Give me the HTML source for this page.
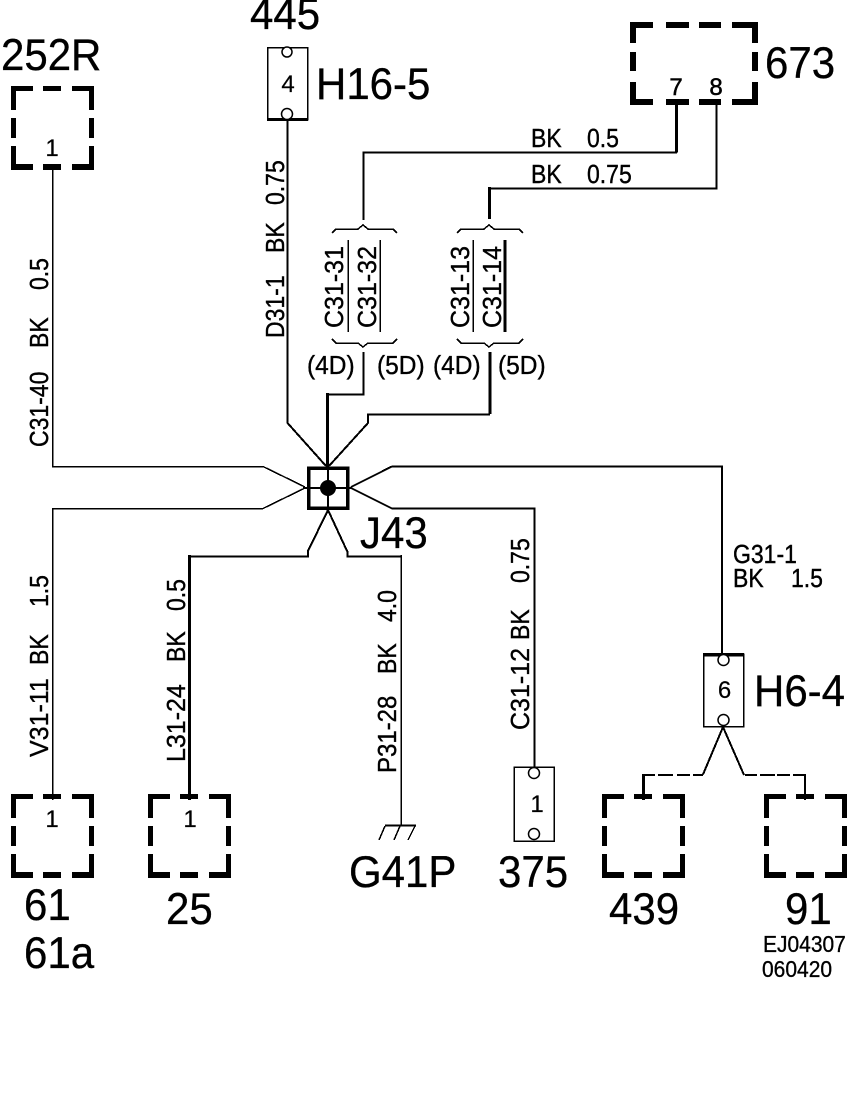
<!DOCTYPE html>
<html><head><meta charset="utf-8"><style>
html,body{margin:0;padding:0;background:#fff}
svg{display:block}
text{font-family:"Liberation Sans",sans-serif;fill:#000}
.L{font-size:42px;stroke:#000;stroke-width:.3}
.S{font-size:23px;stroke:#000;stroke-width:.35}
.T{font-size:25px;stroke:#000;stroke-width:.35}
.N{font-size:24px;stroke:#000;stroke-width:.2}
.C{font-size:21px;stroke:#000;stroke-width:.3}
.w{fill:none;stroke:#000;stroke-linejoin:miter;shape-rendering:crispEdges}
</style></head><body>
<svg width="864" height="1100" viewBox="0 0 864 1100" xmlns="http://www.w3.org/2000/svg">
<defs>
<g id="box">
<path d="M0 0H22V5H5V24H0Z"/><rect x="32" y="0" width="18" height="5"/><path d="M61 0H83V24H78V5H61Z"/>
<rect x="0" y="32" width="5" height="20"/><rect x="78" y="32" width="5" height="20"/>
<path d="M0 60H5V78H22V84H0Z"/><rect x="32" y="78" width="18" height="6"/><path d="M78 60H83V84H61V78H78Z"/>
</g>
</defs>
<rect width="864" height="1100" fill="#fff"/>

<!-- dashed boxes -->
<use href="#box" x="11" y="86"/>
<use href="#box" x="11" y="794"/>
<use href="#box" x="148" y="794"/>
<use href="#box" x="602" y="794"/>
<use href="#box" x="764" y="794"/>
<!-- 673 box -->
<path d="M630 22H653V28H636V43H630Z"/><rect x="666" y="22" width="23" height="6"/><rect x="699" y="22" width="22" height="6"/><path d="M732 22H758V43H752V28H732Z"/>
<rect x="630" y="52" width="6" height="19"/><rect x="752" y="52" width="6" height="19"/>
<path d="M630 82H636V99H653V105H630Z"/><rect x="666" y="99" width="23" height="6"/><rect x="699" y="99" width="22" height="6"/><path d="M752 82H758V105H732V99H752Z"/>

<!-- wires -->
<path class="w" stroke-width="1.5" d="M52.5 170V466.5H263L305 487"/>
<path class="w" stroke-width="1.5" d="M52.5 800V508.5H263L305 488"/>
<path class="w" stroke-width="2" d="M287.5 120V423L326 466"/>
<path class="w" stroke-width="3" d="M676.5 105V152.5"/>
<path class="w" stroke-width="2" d="M677 152.5H363.5V220"/>
<path class="w" stroke-width="2" d="M716.5 105V188.5H489.5"/>
<path class="w" stroke-width="3" d="M489.5 187V219"/>
<path class="w" stroke-width="2" d="M363.5 352V394.5H327.5"/>
<path class="w" stroke-width="3" d="M327.5 393V467"/>
<path class="w" stroke-width="3" d="M490 352V414"/>
<path class="w" stroke-width="2" d="M490 414.5H368V423L329 466"/>
<path class="w" stroke-width="2" d="M722 654V466.5H392L351 487"/>
<path class="w" stroke-width="2" d="M534.5 770V508.5H392L351 488"/>
<path class="w" stroke-width="2" d="M328 510L308 551V556.5H189"/>
<path class="w" stroke-width="3" d="M189.5 555V800"/>
<path class="w" stroke-width="2" d="M328 510L347.5 552V556.5H401"/>
<path class="w" stroke-width="1.5" d="M401 555V826"/>

<!-- J43 -->
<rect class="w" stroke-width="3.5" x="308.5" y="468" width="39" height="40"/>
<path class="w" stroke-width="2" d="M303 488H352M328 462V512"/>
<circle cx="328" cy="488" r="8"/>

<!-- ground -->
<path class="w" stroke-width="2" d="M385 825.5H416"/>
<path class="w" stroke-width="1.5" d="M385 826L379 840M400 826L394 840M415 826L408 840"/>

<!-- braces -->
<path class="w" stroke-width="1.5" d="M332 233L336 229H358L363 225L368 229H393L397 233"/>
<path class="w" stroke-width="1.5" d="M332 339L336 343H358L363 347L368 343H393L397 339"/>
<path class="w" stroke-width="1.5" d="M457 233L461 229H484L489 225L494 229H519L523 233"/>
<path class="w" stroke-width="1.5" d="M457 339L461 343H484L489 347L494 343H519L523 339"/>
<path class="w" stroke-width="1.5" d="M348 240V332"/>
<path class="w" stroke-width="1.5" d="M380 240V332"/>
<path class="w" stroke-width="1.5" d="M473 240V332"/>
<path class="w" stroke-width="3" d="M505 240V332"/>

<!-- connectors -->
<rect class="w" stroke-width="1.5" x="267.5" y="47.5" width="40" height="72"/>
<path class="w" stroke-width="3" d="M267 119.5H308"/>
<circle cx="287" cy="52" r="5" fill="#fff" stroke="#000" stroke-width="1.5"/>
<circle cx="287" cy="114" r="5.5" fill="#fff" stroke="#000" stroke-width="1.5"/>

<rect class="w" stroke-width="1.5" x="703.5" y="654" width="40" height="72.5"/>
<path class="w" stroke-width="3.5" d="M703 654.5H744"/>
<circle cx="723.5" cy="660" r="5.5" fill="#fff" stroke="#000" stroke-width="1.5"/>
<circle cx="723.5" cy="720" r="5.5" fill="#fff" stroke="#000" stroke-width="1.5"/>

<rect class="w" stroke-width="1.5" x="514" y="767" width="40" height="74"/>
<circle cx="534" cy="773" r="5.5" fill="#fff" stroke="#000" stroke-width="1.5"/>
<circle cx="534" cy="834" r="5.5" fill="#fff" stroke="#000" stroke-width="1.5"/>

<!-- fork -->
<path class="w" stroke-width="2" d="M723 727L703 774.5M723 727L744 775"/>
<path class="w" stroke-width="2" d="M643 775H655M658 775H673M677 775H690M693 775H703"/>
<path class="w" stroke-width="2" d="M745 775H757M760 775H775M777 775H790M793 775H806"/>
<path class="w" stroke-width="3" d="M643.5 774V800"/>
<path class="w" stroke-width="2" d="M805 774V800"/>

<!-- large labels -->
<text class="L" transform="translate(1 70) scale(1 1.06)">252R</text>
<text class="L" transform="translate(250 29) scale(1 1.06)">445</text>
<text class="L" transform="translate(316 99) scale(1 1.06)">H16-5</text>
<text class="L" transform="translate(765 78) scale(1 1.06)">673</text>
<text class="L" transform="translate(360 548) scale(1 1.06)">J43</text>
<text class="L" transform="translate(754 706) scale(1 1.06)">H6-4</text>
<text class="L" transform="translate(24 920) scale(1 1.06)">61</text>
<text class="L" transform="translate(24 968) scale(1 1.06)">61a</text>
<text class="L" transform="translate(166 924) scale(1 1.06)">25</text>
<text class="L" transform="translate(349 887) scale(1 1.06)">G41P</text>
<text class="L" transform="translate(498 887) scale(1 1.06)">375</text>
<text class="L" transform="translate(609 924) scale(1 1.06)">439</text>
<text class="L" transform="translate(785 924) scale(1 1.06)">91</text>
<text class="C" transform="translate(763 952) scale(1 1.1)">EJ04307</text>
<text class="C" transform="translate(762 977) scale(1 1.1)">060420</text>

<!-- pin numbers -->
<text class="N" x="52" y="156" text-anchor="middle">1</text>
<text class="N" x="52" y="827" text-anchor="middle">1</text>
<text class="N" x="190" y="827" text-anchor="middle">1</text>
<text class="N" x="288" y="92" text-anchor="middle">4</text>
<text class="N" x="724.5" y="698" text-anchor="middle">6</text>
<text class="N" x="537" y="812" text-anchor="middle">1</text>
<text class="N" x="676" y="95" text-anchor="middle" style="stroke-width:.5">7</text>
<text class="N" x="716" y="95" text-anchor="middle" style="stroke-width:.5">8</text>

<!-- horizontal small labels -->
<text class="S" transform="translate(531 147) scale(1 1.12)">BK</text><text class="S" transform="translate(587 147) scale(1 1.12)">0.5</text>
<text class="S" transform="translate(531 183) scale(1 1.12)">BK</text><text class="S" transform="translate(587 183) scale(1 1.12)">0.75</text>
<text class="S" transform="translate(733 563) scale(1 1.12)">G31-1</text>
<text class="S" transform="translate(733 587) scale(1 1.12)">BK</text><text class="S" transform="translate(791 587) scale(1 1.12)">1.5</text>
<text class="S" style="font-size:24.5px" transform="translate(307 374) scale(1 1.05)">(4D)</text>
<text class="S" style="font-size:24.5px" transform="translate(377 374) scale(1 1.05)">(5D)</text>
<text class="S" style="font-size:24.5px" transform="translate(433 374) scale(1 1.05)">(4D)</text>
<text class="S" style="font-size:24.5px" transform="translate(498 374) scale(1 1.05)">(5D)</text>

<!-- rotated small labels -->
<text class="S" transform="translate(48 447) rotate(-90) scale(1 1.12)">C31-40</text>
<text class="S" transform="translate(48 348) rotate(-90) scale(1 1.12)">BK</text>
<text class="S" transform="translate(48 290) rotate(-90) scale(1 1.12)">0.5</text>

<text class="S" transform="translate(284 338) rotate(-90) scale(1 1.12)">D31-1</text>
<text class="S" transform="translate(284 253) rotate(-90) scale(1 1.12)">BK</text>
<text class="S" transform="translate(284 205) rotate(-90) scale(1 1.12)">0.75</text>

<text class="T" transform="translate(343 328) rotate(-90) scale(1 1.05)">C31-31</text>
<text class="T" transform="translate(376 328) rotate(-90) scale(1 1.05)">C31-32</text>
<text class="T" transform="translate(469 328) rotate(-90) scale(1 1.05)">C31-13</text>
<text class="T" transform="translate(501 328) rotate(-90) scale(1 1.05)">C31-14</text>

<text class="T" transform="translate(48 757) rotate(-90) scale(1 1.05)">V31-11</text>
<text class="S" transform="translate(48 665) rotate(-90) scale(1 1.12)">BK</text>
<text class="S" transform="translate(48 607) rotate(-90) scale(1 1.12)">1.5</text>

<text class="T" transform="translate(185 762) rotate(-90) scale(1 1.05)">L31-24</text>
<text class="S" transform="translate(185 662) rotate(-90) scale(1 1.12)">BK</text>
<text class="S" transform="translate(185 611) rotate(-90) scale(1 1.12)">0.5</text>

<text class="S" style="font-size:24px" transform="translate(396 773) rotate(-90) scale(1 1.08)">P31-28</text>
<text class="S" transform="translate(396 674) rotate(-90) scale(1 1.12)">BK</text>
<text class="S" transform="translate(396 622) rotate(-90) scale(1 1.12)">4.0</text>

<text class="T" transform="translate(529 730) rotate(-90) scale(1 1.05)">C31-12</text>
<text class="S" transform="translate(529 640) rotate(-90) scale(1 1.12)">BK</text>
<text class="S" transform="translate(529 583) rotate(-90) scale(1 1.12)">0.75</text>
</svg>
</body></html>
